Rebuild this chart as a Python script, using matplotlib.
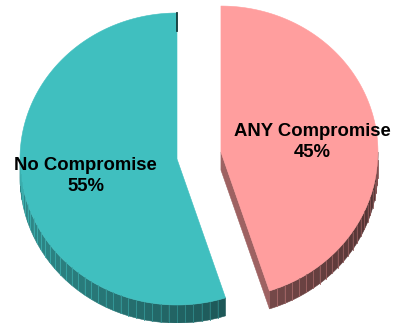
import numpy as np
import matplotlib
matplotlib.use("Agg")
import matplotlib.pyplot as plt
from matplotlib.patches import Polygon

# --- DATA ---
labels = ["ANY Compromise", "No Compromise"]
shares = [45, 55]
top_colors = [(255, 158, 158), (64, 191, 191)]
explode = [44.5, 0.0]   # px, along the slice mid angle

# --- GEOMETRY (pixel space) ---
W, H = 393, 323
CX, CY = 177, 159
RX, RY = 157, 146
DEPTH = 18
STEP = 3.0  # degrees between side stripes


def rgb(c, f=1.0):
    return tuple(min(1.0, v * f / 255.0) for v in c)


def pt(cx, cy, th, dy=0.0):
    t = np.radians(th)
    return (cx + RX * np.sin(t), cy - RY * np.cos(t) + dy)


def side_factor(th):
    return 0.52 - 0.2 * np.sin(np.radians(th))


fig = plt.figure(figsize=(W / 100, H / 100), dpi=100)
ax = fig.add_axes([0, 0, 1, 1])
ax.set_xlim(0, W)
ax.set_ylim(H, 0)
ax.axis("off")

# slice angles, clockwise from 12 o'clock
total = float(sum(shares))
starts = np.cumsum([0] + shares[:-1]) / total * 360
ends = np.cumsum(shares) / total * 360
slices = []
for i in range(len(shares)):
    mid = np.radians((starts[i] + ends[i]) / 2)
    cx = CX + explode[i] * np.sin(mid)
    cy = CY - explode[i] * np.cos(mid)
    slices.append((cx, cy, starts[i], ends[i]))

# outer side walls (front half only)
for (cx, cy, a, b), col in zip(slices, top_colors):
    lo, hi = max(a, 90), min(b, 270)
    if hi <= lo:
        continue
    edges = np.arange(lo, hi, STEP)
    edges = np.append(edges, hi)
    for t1, t2 in zip(edges[:-1], edges[1:]):
        ths = np.linspace(t1, t2, 4)
        top = [pt(cx, cy, t) for t in ths]
        bot = [pt(cx, cy, t, DEPTH) for t in ths[::-1]]
        c = rgb(col, side_factor((t1 + t2) / 2))
        ax.add_patch(Polygon(top + bot, closed=True, fc=c, ec=c, lw=0.4))
    for t in edges[1:-1]:
        x0, y0 = pt(cx, cy, t)
        c = rgb(col, side_factor(t) + 0.22)
        ax.plot([x0, x0], [y0, y0 + DEPTH], color=c, lw=0.6)

# radial wall of the exploded slice (left cut, faces the viewer)
cx, cy, a, b = slices[0]
tip = pt(cx, cy, b)
wall = [(cx, cy), tip, (tip[0], tip[1] + DEPTH), (cx, cy + DEPTH)]
ax.add_patch(Polygon(wall, closed=True, fc=rgb(top_colors[0], 0.62),
                     ec=rgb(top_colors[0], 0.62), lw=0.4))

# top faces
for (cx, cy, a, b), col in zip(slices, top_colors):
    ths = np.linspace(a, b, 200)
    poly = [(cx, cy)] + [pt(cx, cy, t) for t in ths]
    ax.add_patch(Polygon(poly, closed=True, fc=rgb(col), ec=rgb(col), lw=0.4))

# back edge of the big slice at 12 o'clock
cx, cy, a, b = slices[1]
bx, by = pt(cx, cy, b)
ax.plot([bx, bx], [by, by + DEPTH], color=rgb(top_colors[1], 0.3), lw=1.3)

# labels
for (cx, cy, a, b), lab, s in zip(slices, labels, shares):
    m = (a + b) / 2
    t = np.radians(m)
    lx = cx + 0.59 * RX * np.sin(t)
    ly = cy - 0.59 * RY * np.cos(t) + 3.5
    ax.text(lx, ly, f"{lab}\n{s}%", ha="center", va="center",
            fontsize=13.3, fontweight="bold", family=["Liberation Sans", "DejaVu Sans"],
            linespacing=1.32, color="black")

fig.savefig("out.png", dpi=100)
